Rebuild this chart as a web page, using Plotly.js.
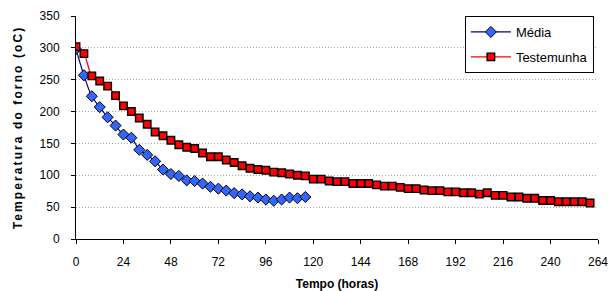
<!DOCTYPE html>
<html>
<head>
<meta charset="utf-8">
<script src="https://cdn.plot.ly/plotly-3.0.1.min.js"></script>
<style>
  html, body { margin: 0; padding: 0; background: #fff; }
  #chart { width: 610px; height: 291px; }
  .ytitle { letter-spacing: 2.1px; }
</style>
</head>
<body>
<div id="chart"></div>
<script>
// Time (hours) and oven temperature (oC)
const mediaHours = [0,4,8,12,16,20,24,28,32,36,40,44,48,52,56,60,64,68,72,76,80,84,88,92,96,100,104,108,112,116];
const mediaTemp  = [298,257,224,207,191,178,164,159,140,132,122,109,102,99,92,91,87,82,79,76,72,70,67,65,62,60,62,65,64,66];

const testHours = [0,4,8,12,16,20,24,28,32,36,40,44,48,52,56,60,64,68,72,76,80,84,88,92,96,100,104,108,112,116,120,124,128,132,136,140,144,148,152,156,160,164,168,172,176,180,184,188,192,196,200,204,208,212,216,220,224,228,232,236,240,244,248,252,256,260];
const testTemp  = [302,291,256,248,240,225,209,200,190,180,168,162,155,148,144,142,135,129,129,124,120,115,111,109,108,105,104,102,100,99,94,94,91,90,90,87,87,87,85,83,83,81,79,79,77,76,76,74,74,72.5,72.5,70.5,72.5,68.5,68.5,66,66,64,64,60.5,60.5,58.5,58.5,58.5,58.5,56.5];

const seriesNames = ['Média', 'Testemunha'];
const xTicks = [0,24,48,72,96,120,144,168,192,216,240,264];
const yTicks = [0,50,100,150,200,250,300,350];
const xTitle = 'Tempo (horas)';
const yTitle = 'Temperatura do forno (oC)';

const FONT = 'Arial, "Liberation Sans", sans-serif';

const traces = [
  {
    x: mediaHours, y: mediaTemp, name: seriesNames[0], type: 'scatter', mode: 'lines+markers',
    legendgroup: 'a',
    line: { color: '#000080', width: 1.2, shape: 'spline', smoothing: 1 },
    marker: { symbol: 'diamond', size: 8.5, color: '#3366FF', line: { color: '#000000', width: 1 } }
  },
  {
    x: testHours, y: testTemp, name: seriesNames[1], type: 'scatter', mode: 'lines+markers',
    legendgroup: 'b',
    line: { color: '#FF0000', width: 1.2, shape: 'spline', smoothing: 1 },
    marker: { symbol: 'square', size: 7.5, color: '#FF0000', line: { color: '#000000', width: 1.4 } }
  }
];

const layout = {
  width: 610, height: 291,
  margin: { l: 76, r: 12, t: 16, b: 52 },
  paper_bgcolor: '#ffffff', plot_bgcolor: '#ffffff',
  font: { family: FONT, size: 12, color: '#000000' },
  showlegend: true,
  legend: {
    x: 0.745, xanchor: 'left', y: 1.0, yanchor: 'top',
    bgcolor: '#ffffff', bordercolor: '#000000', borderwidth: 1,
    font: { family: FONT, size: 13, color: '#000000' },
    itemwidth: 40, tracegroupgap: 5,
    entrywidth: 132, entrywidthmode: 'pixels'
  },
  xaxis: {
    range: [0, 264], tickvals: xTicks, ticktext: xTicks.map(String),
    showgrid: false, zeroline: false,
    showline: true, linecolor: '#000000', linewidth: 1,
    ticks: 'outside', ticklen: 4, tickcolor: '#000000',
    ticklabelstandoff: 8,
    tickfont: { family: FONT, size: 12, color: '#000000' },
    title: { text: xTitle, font: { family: FONT, size: 12, color: '#000000', weight: 'bold' }, standoff: 12 }
  },
  yaxis: {
    range: [0, 350], tickvals: yTicks, ticktext: yTicks.map(String),
    showgrid: true, gridcolor: '#a8a8a8', griddash: '1px,2px', gridwidth: 1,
    zeroline: false,
    showline: true, linecolor: '#000000', linewidth: 1,
    ticks: 'outside', ticklen: 4, tickcolor: '#000000',
    ticklabelstandoff: 9,
    tickfont: { family: FONT, size: 12, color: '#000000' },
    title: { text: yTitle, font: { family: FONT, size: 12, color: '#000000', weight: 'bold' }, standoff: 14 }
  }
};

Plotly.newPlot('chart', traces, layout, { displayModeBar: false, staticPlot: true });
</script>
</body>
</html>
